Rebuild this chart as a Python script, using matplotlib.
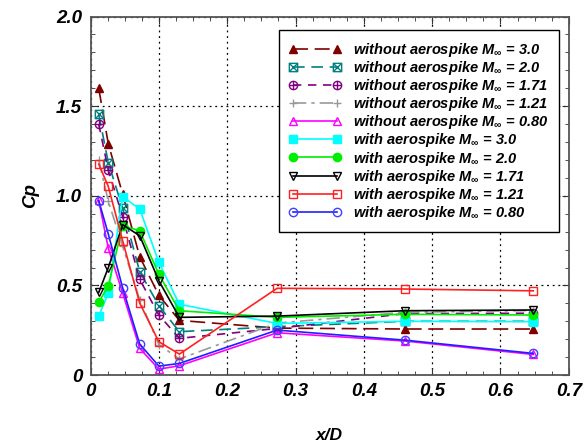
import matplotlib
matplotlib.use("Agg")
import matplotlib.pyplot as plt
from matplotlib.path import Path
from matplotlib.ticker import MultipleLocator, FuncFormatter

plt.rcParams['font.family'] = ['Liberation Sans', 'DejaVu Sans']
plt.rcParams['mathtext.fontset'] = 'custom'
plt.rcParams['mathtext.it'] = 'Liberation Sans:italic:bold'
plt.rcParams['mathtext.rm'] = 'Liberation Sans:bold'

# ---- data ----
x = [0.012, 0.026, 0.047, 0.072, 0.1, 0.13, 0.273, 0.46, 0.648]

wo_30 = [1.60, 1.29, 1.01, 0.66, 0.445, 0.305, 0.262, 0.257, 0.257]
wo_20 = [1.455, 1.185, 0.93, 0.577, 0.387, 0.242, 0.27, 0.30, 0.30]
wo_171 = [1.40, 1.144, 0.883, 0.534, 0.335, 0.205, 0.26, 0.343, 0.345]
wo_121 = [1.20, 0.97, 0.72, 0.42, 0.17, 0.09, 0.29, 0.35, 0.36]
wo_080 = [0.975, 0.707, 0.458, 0.149, 0.033, 0.052, 0.236, 0.19, 0.115]
w_30 = [0.329, 0.456, 0.995, 0.926, 0.629, 0.395, 0.288, 0.30, 0.298]
w_20 = [0.406, 0.498, 0.833, 0.805, 0.562, 0.359, 0.322, 0.339, 0.335]
w_171 = [0.461, 0.599, 0.839, 0.777, 0.526, 0.322, 0.329, 0.359, 0.363]
w_121 = [1.177, 1.052, 0.749, 0.401, 0.186, 0.117, 0.484, 0.48, 0.47]
w_080 = [0.973, 0.787, 0.487, 0.173, 0.050, 0.065, 0.251, 0.195, 0.121]

labels = [
    'without aerospike M$_{\\infty}$ = 3.0',
    'without aerospike M$_{\\infty}$ = 2.0',
    'without aerospike M$_{\\infty}$ = 1.71',
    'without aerospike M$_{\\infty}$ = 1.21',
    'without aerospike M$_{\\infty}$ = 0.80',
    'with aerospike M$_{\\infty}$ = 3.0',
    'with aerospike M$_{\\infty}$ = 2.0',
    'with aerospike M$_{\\infty}$ = 1.71',
    'with aerospike M$_{\\infty}$ = 1.21',
    'with aerospike M$_{\\infty}$ = 0.80',
]

# custom markers
M, L, C = Path.MOVETO, Path.LINETO, Path.CLOSEPOLY
sq_x = Path([(-1, -1), (1, -1), (1, 1), (-1, 1), (-1, -1),
             (-1, -1), (1, 1), (1, -1), (-1, 1)],
            [M, L, L, L, C, M, L, M, L])
circ_plus = Path.make_compound_path(
    Path.unit_circle(),
    Path([(-1, 0), (1, 0), (0, -1), (0, 1)], [M, L, M, L]))

fig = plt.figure(figsize=(5.84, 4.46), dpi=100)
ax = fig.add_axes([0.155, 0.159, 0.819, 0.804])

lw = 1.2
ms = 6
styles = [
    (wo_30, dict(color='#800000', ls=(0, (9, 4)), marker='^', mfc='#800000', mec='#800000')),
    (wo_20, dict(color='#008080', ls=(0, (7, 4)), marker=sq_x, mfc='none', mec='#008080')),
    (wo_171, dict(color='#800080', ls=(0, (5, 4)), marker=circ_plus, mfc='none', mec='#800080')),
    (wo_121, dict(color='#999999', ls=(0, (8, 3, 2, 3)), marker='+', mfc='none', mec='#999999')),
    (wo_080, dict(color='#ff00ff', ls='-', marker='^', mfc='none', mec='#ff00ff')),
    (w_30, dict(color='#00ffff', ls='-', marker='s', mfc='#00ffff', mec='#00ffff')),
    (w_20, dict(color='#00ee00', ls='-', marker='o', mfc='#00ee00', mec='#00ee00')),
    (w_171, dict(color='black', ls='-', marker='v', mfc='none', mec='black')),
    (w_121, dict(color='#ff2020', ls='-', marker='s', mfc='none', mec='#ff2020')),
    (w_080, dict(color='#2020ff', ls='-', marker='o', mfc='none', mec='#4040ff')),
]
for (vals, st), lab in zip(styles, labels):
    ax.plot(x, vals, lw=lw, ms=ms, mew=1.0, label=lab, **st)

ax.set_xlim(0, 0.7)
ax.set_ylim(0, 2.0)
ax.xaxis.set_major_locator(MultipleLocator(0.1))
ax.xaxis.set_minor_locator(MultipleLocator(0.025))
ax.yaxis.set_major_locator(MultipleLocator(0.5))
ax.yaxis.set_minor_locator(MultipleLocator(0.1))
fmt = FuncFormatter(lambda v, p: '0' if abs(v) < 1e-9 else f'{v:.1f}')
ax.xaxis.set_major_formatter(fmt)
ax.yaxis.set_major_formatter(fmt)
ax.tick_params(which='both', direction='in', top=True, right=True, color='#333333')
ax.tick_params(which='major', length=5, labelsize=13.5, pad=6)
ax.tick_params(which='minor', length=3)
for lab in ax.get_xticklabels() + ax.get_yticklabels():
    lab.set_fontweight('bold')
    lab.set_fontstyle('italic')
ax.grid(True, which='major', ls=(0, (1.5, 3)), color='black', lw=0.9)
for sp in ax.spines.values():
    sp.set_color('#555555')
    sp.set_linewidth(1.3)

ax.set_xlabel('x/D', fontsize=12.5, fontweight='bold', fontstyle='italic', labelpad=20)
ax.set_ylabel('Cp', fontsize=13.5, fontweight='bold', fontstyle='italic', labelpad=12)

leg = ax.legend(loc='upper right', bbox_to_anchor=(0.979, 0.961), borderaxespad=0,
                fancybox=False, edgecolor='black', framealpha=1, numpoints=2,
                handlelength=3.6, handletextpad=0.8, labelspacing=0.01, borderpad=0.7,
                prop=dict(size=10.5, weight='bold', style='italic'))
leg.get_frame().set_linewidth(1.0)

fig.savefig('out.png', dpi=100)
